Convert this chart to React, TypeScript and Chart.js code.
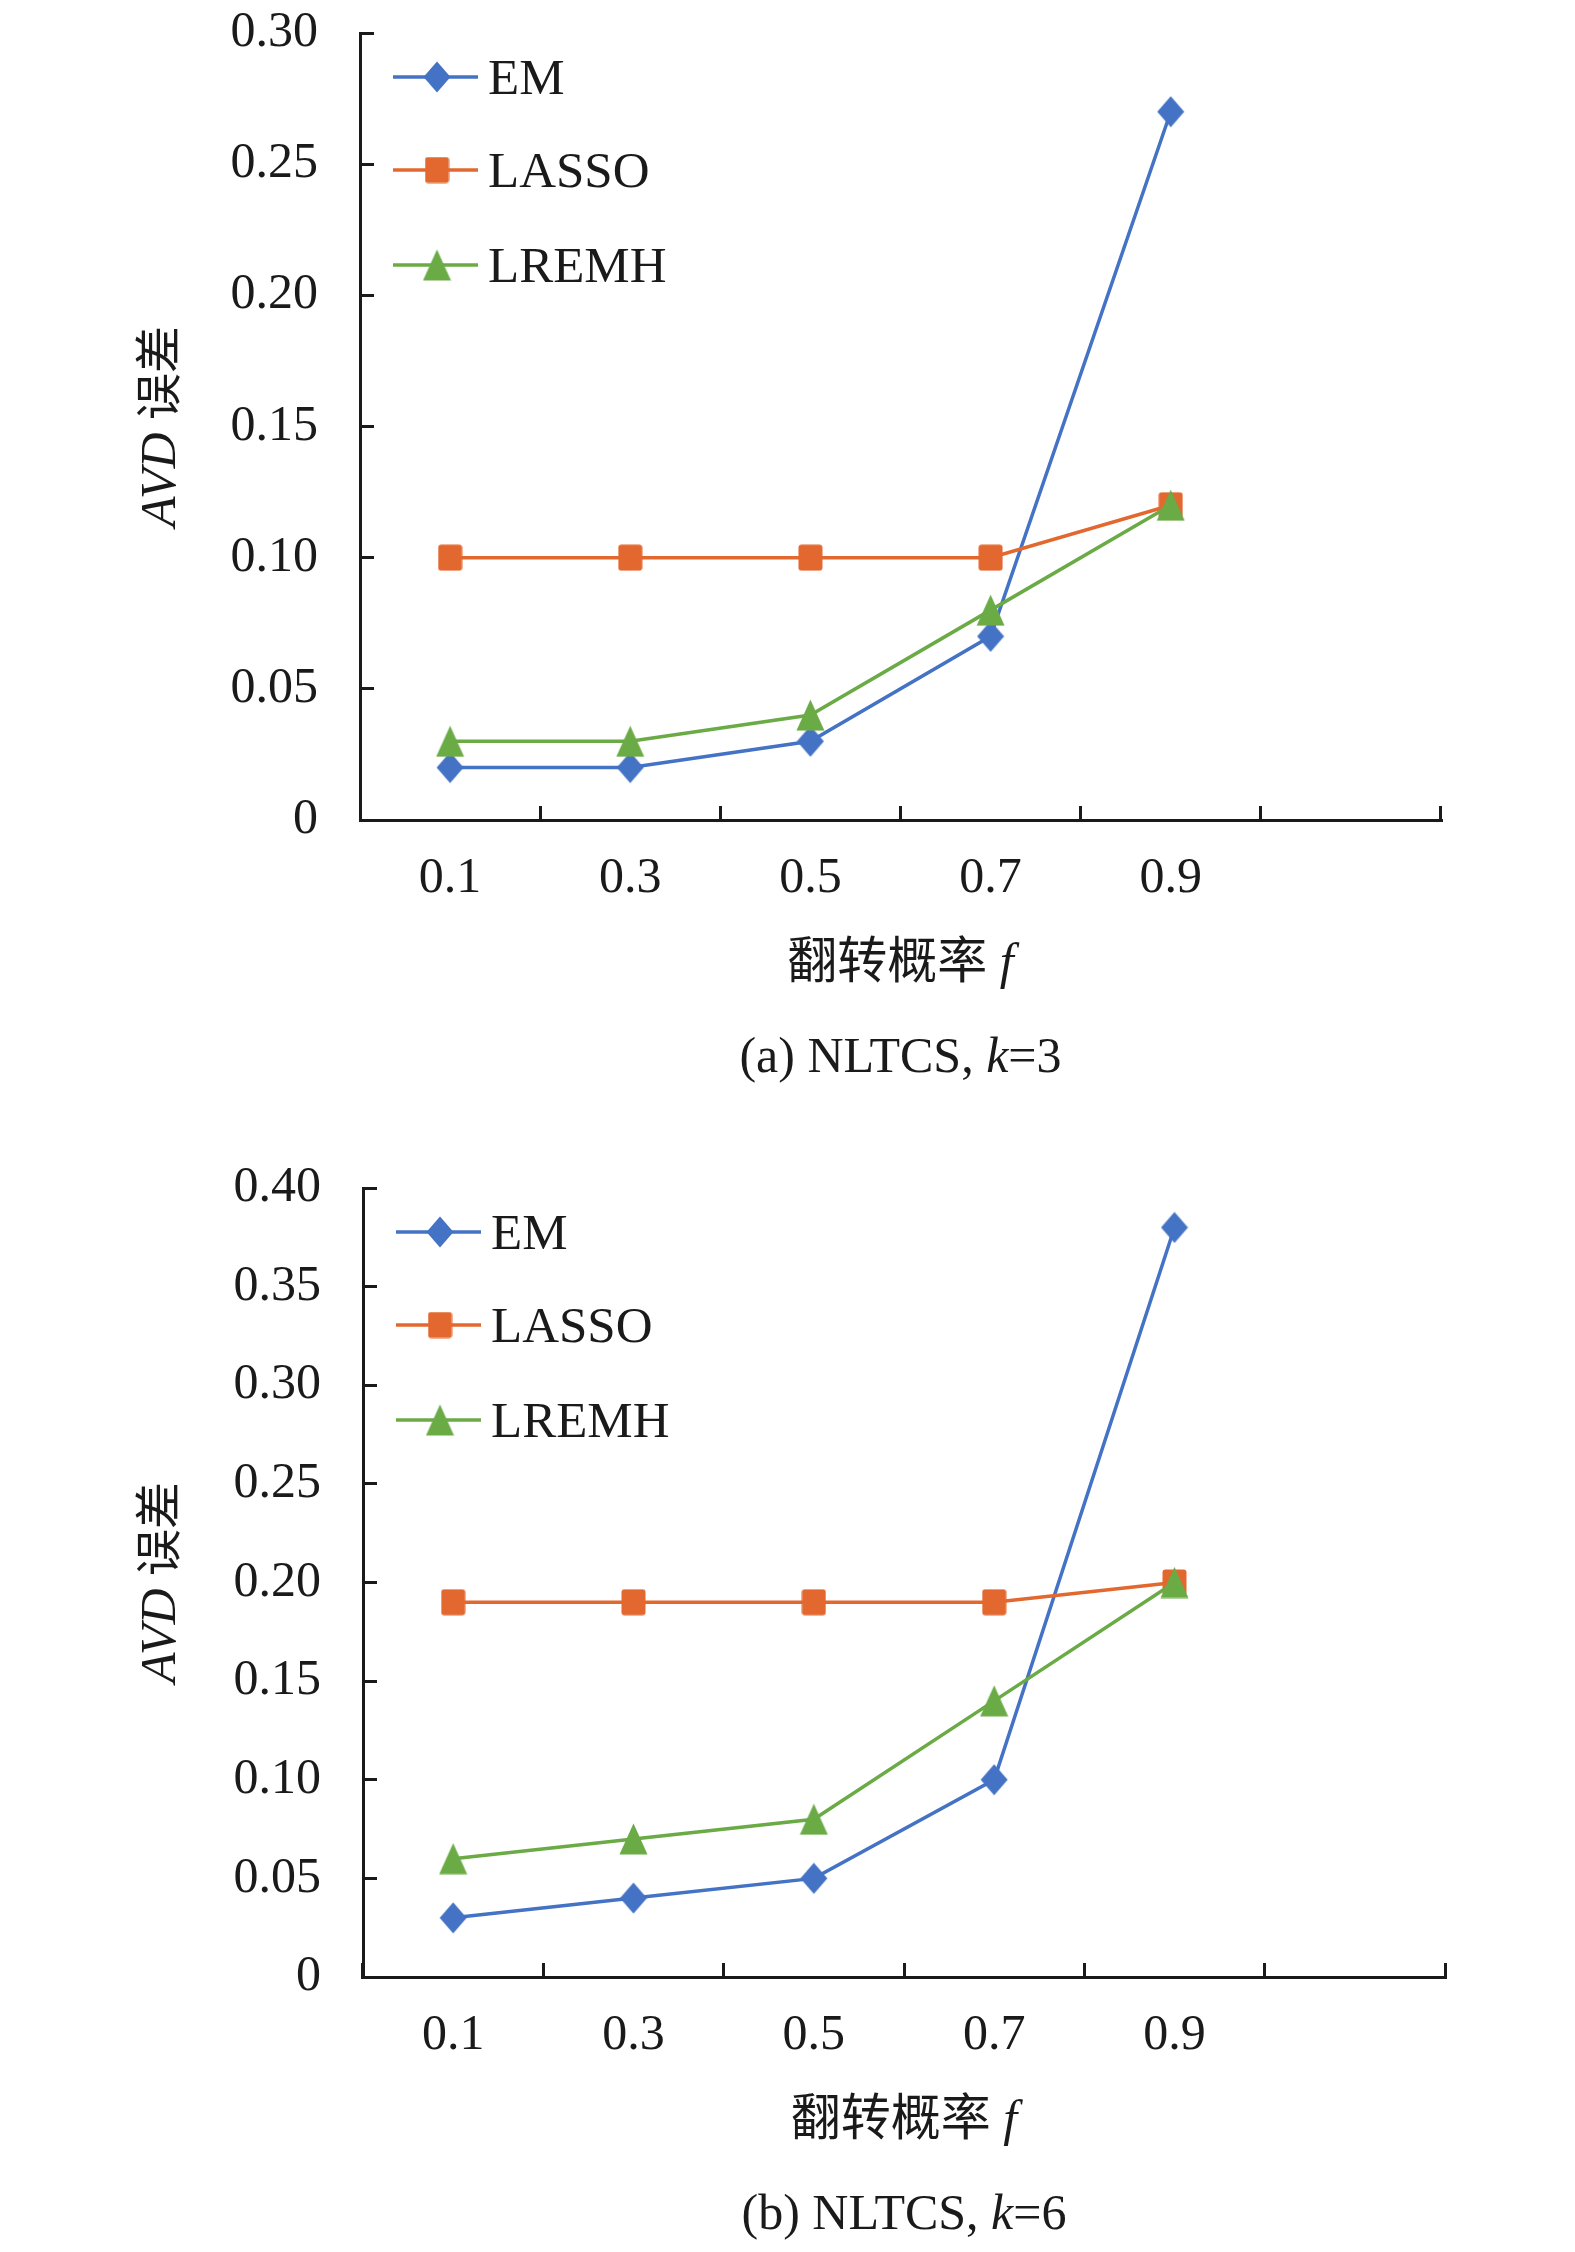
import React, { useEffect, useRef } from 'react';
import { Chart, registerables } from 'chart.js';

Chart.register(...registerables);

// ---------------- data ----------------
const categories = ['0.1', '0.3', '0.5', '0.7', '0.9', ''];
const seriesNames = ['EM', 'LASSO', 'LREMH'];

const emA = [0.02, 0.02, 0.03, 0.07, 0.27];
const lassoA = [0.10, 0.10, 0.10, 0.10, 0.12];
const lremhA = [0.03, 0.03, 0.04, 0.08, 0.12];

const emB = [0.03, 0.04, 0.05, 0.10, 0.38];
const lassoB = [0.19, 0.19, 0.19, 0.19, 0.20];
const lremhB = [0.06, 0.07, 0.08, 0.14, 0.20];

const yMaxA = 0.30;
const yMaxB = 0.40;
const yStep = 0.05;

const captionA = ['(a) NLTCS, ', 'k', '=3'];
const captionB = ['(b) NLTCS, ', 'k', '=6'];
const xTitleCJK = '翻转概率';
const xTitleVar = 'f';
const yTitleVar = 'AVD';
const yTitleCJK = '误差';

// ---------------- styles ----------------
const COLORS = ['#4472C4', '#E3682F', '#6AAB46'];
const SERIF = "'Liberation Serif', 'Times New Roman', 'DejaVu Serif', serif";
const CJK = "'Noto Sans CJK SC', 'Noto Sans CJK JP', sans-serif";
const INK = '#1a1a1a';

function makeMarker(shape: string, color: string): HTMLCanvasElement {
  const c = document.createElement('canvas');
  const ctx = c.getContext('2d')!;
  if (shape === 'diamond') {
    c.width = 28; c.height = 32;
    ctx.fillStyle = color;
    ctx.beginPath();
    ctx.moveTo(14, 0.5);
    ctx.lineTo(27.5, 16);
    ctx.lineTo(14, 31.5);
    ctx.lineTo(0.5, 16);
    ctx.closePath();
    ctx.fill();
  } else if (shape === 'square') {
    c.width = 25; c.height = 27;
    ctx.fillStyle = color;
    ctx.beginPath();
    (ctx as any).roundRect(0.5, 0.5, 24, 26, 3);
    ctx.fill();
  } else {
    c.width = 29; c.height = 32;
    ctx.fillStyle = color;
    ctx.beginPath();
    ctx.moveTo(14.5, 0.5);
    ctx.lineTo(28.5, 31.5);
    ctx.lineTo(0.5, 31.5);
    ctx.closePath();
    ctx.fill();
  }
  return c;
}

type Run = { text: string; font: string };

function drawRuns(ctx: CanvasRenderingContext2D, runs: Run[], cx: number, baseY: number) {
  let total = 0;
  const widths = runs.map((r) => {
    ctx.font = r.font;
    const w = ctx.measureText(r.text).width;
    total += w;
    return w;
  });
  let x = cx - total / 2;
  ctx.textAlign = 'left';
  ctx.textBaseline = 'alphabetic';
  runs.forEach((r, i) => {
    ctx.font = r.font;
    ctx.fillText(r.text, x, baseY);
    x += widths[i];
  });
}

interface PanelCfg {
  top: number;
  height: number;
  em: number[];
  lasso: number[];
  lremh: number[];
  yMax: number;
  caption: string[];
  padTop: number;
  padRight: number;
  padBottom: number;
  yWidth: number;
}

const panelA: PanelCfg = {
  top: 0, height: 1126, em: emA, lasso: lassoA, lremh: lremhA, yMax: yMaxA, caption: captionA,
  padTop: 33, padRight: 134, padBottom: 206, yWidth: 360,
};
const panelB: PanelCfg = {
  top: 1126, height: 1126, em: emB, lasso: lassoB, lremh: lremhB, yMax: yMaxB, caption: captionB,
  padTop: 62, padRight: 130, padBottom: 175, yWidth: 363,
};

function Panel({ cfg }: { cfg: PanelCfg }) {
  const ref = useRef<HTMLCanvasElement>(null);

  useEffect(() => {
    const markers = [
      makeMarker('diamond', COLORS[0]),
      makeMarker('square', COLORS[1]),
      makeMarker('triangle', COLORS[2]),
    ];
    const values = [cfg.em, cfg.lasso, cfg.lremh];
    const orders = [2, 1, 0];

    const annot = {
      id: 'annot',
      afterDraw(chart: any) {
        const { ctx, chartArea: a } = chart;
        ctx.save();
        ctx.fillStyle = INK;
        // legend
        const offs = [44, 137, 232];
        seriesNames.forEach((name, i) => {
          const y = a.top + offs[i];
          ctx.strokeStyle = COLORS[i];
          ctx.lineWidth = 3.5;
          ctx.beginPath();
          ctx.moveTo(a.left + 33, y);
          ctx.lineTo(a.left + 118, y);
          ctx.stroke();
          const m = markers[i];
          ctx.drawImage(m, a.left + 77 - m.width / 2, y - m.height / 2);
          ctx.fillStyle = INK;
          ctx.font = `51px ${SERIF}`;
          ctx.textAlign = 'left';
          ctx.textBaseline = 'alphabetic';
          ctx.fillText(name, a.left + 128, y + 17);
        });
        // x title
        const cx = (a.left + a.right) / 2;
        drawRuns(ctx, [
          { text: xTitleCJK, font: `50px ${CJK}` },
          { text: ' ', font: `50px ${SERIF}` },
          { text: xTitleVar, font: `italic 50px ${SERIF}` },
        ], cx, a.bottom + 158);
        // caption
        drawRuns(ctx, [
          { text: cfg.caption[0], font: `50px ${SERIF}` },
          { text: cfg.caption[1], font: `italic 50px ${SERIF}` },
          { text: cfg.caption[2], font: `50px ${SERIF}` },
        ], cx, a.bottom + 252);
        // y title (rotated)
        ctx.translate(175, (a.top + a.bottom) / 2);
        ctx.rotate(-Math.PI / 2);
        drawRuns(ctx, [
          { text: yTitleVar, font: `italic 50px ${SERIF}` },
          { text: ' ', font: `50px ${SERIF}` },
          { text: yTitleCJK, font: `47px ${CJK}` },
        ], 0, 0);
        ctx.restore();
      },
    };

    const chart = new Chart(ref.current!, {
      type: 'line',
      data: {
        labels: categories,
        datasets: seriesNames.map((name, i) => ({
          label: name,
          data: values[i],
          borderColor: COLORS[i],
          backgroundColor: COLORS[i],
          borderWidth: 3.5,
          pointStyle: markers[i] as any,
          pointRadius: 15,
          pointHoverRadius: 15,
          tension: 0,
          fill: false,
          order: orders[i],
        })),
      },
      options: {
        responsive: false,
        animation: false,
        events: [],
        layout: {
          padding: { left: 0, right: cfg.padRight, top: cfg.padTop, bottom: cfg.padBottom },
        },
        plugins: {
          legend: { display: false },
          tooltip: { enabled: false },
          title: { display: false },
        },
        scales: {
          x: {
            type: 'category',
            offset: true,
            grid: {
              display: true,
              offset: true,
              drawOnChartArea: false,
              drawTicks: true,
              tickLength: -14,
              tickWidth: 3,
              tickColor: INK,
              color: INK,
              lineWidth: 3,
            },
            border: { display: true, color: INK, width: 3 },
            ticks: {
              color: INK,
              font: { family: SERIF, size: 50 },
              padding: 43,
              maxRotation: 0,
              minRotation: 0,
              autoSkip: false,
            },
            afterFit: (s: any) => {
              s.height = 100;
              s.paddingLeft = 0;
              s.paddingRight = 0;
            },
          },
          y: {
            type: 'linear',
            min: 0,
            max: cfg.yMax,
            grid: {
              display: true,
              drawOnChartArea: false,
              drawTicks: true,
              tickLength: -14,
              tickWidth: 3,
              tickColor: INK,
              color: INK,
              lineWidth: 3,
            },
            border: { display: true, color: INK, width: 3 },
            ticks: {
              stepSize: yStep,
              color: INK,
              font: { family: SERIF, size: 50 },
              padding: 56,
              callback: (v: any) => (Math.abs(Number(v)) < 1e-9 ? '0' : Number(v).toFixed(2)),
            },
            afterFit: (s: any) => {
              s.width = cfg.yWidth;
              s.paddingTop = 0;
              s.paddingBottom = 0;
            },
          },
        },
      },
      plugins: [annot],
    });
    return () => chart.destroy();
  }, [cfg]);

  return (
    <div style={{ position: 'absolute', left: 0, top: cfg.top, width: 1575, height: cfg.height }}>
      <canvas ref={ref} width={1575} height={cfg.height} style={{ display: 'block' }} />
    </div>
  );
}

export default function App() {
  return (
    <div style={{ position: 'absolute', left: 0, top: 0, width: 1575, height: 2252, background: '#ffffff' }}>
      <Panel cfg={panelA} />
      <Panel cfg={panelB} />
    </div>
  );
}
